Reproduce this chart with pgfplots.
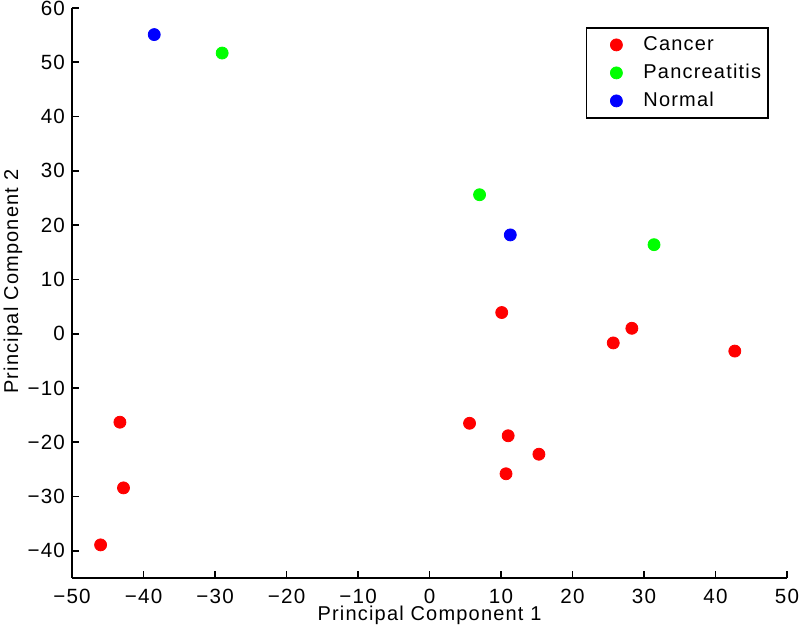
\documentclass[border=0pt]{standalone}
\usepackage{fontspec}
\setmainfont{Liberation Sans}[LetterSpace=6]
\usepackage{pgfplots}
\pgfplotsset{compat=1.18}
\definecolor{mred}{RGB}{255,0,0}
\definecolor{mgreen}{RGB}{0,255,0}
\definecolor{mblue}{RGB}{0,0,255}
\pgfplotsset{myleg/.style={legend image code/.code={%
  \path[draw=none,fill=none] (0pt,0pt) (23pt,0pt);
  \draw[##1, only marks] plot coordinates {(11.5pt,0pt)};}}}
\begin{document}
\begin{tikzpicture}
\begin{axis}[
  scale only axis, width=357.5pt, height=285pt,
  xmin=-50, xmax=50, ymin=-45, ymax=60,
  axis x line*=bottom, axis y line*=left,
  axis line style={line width=0.9pt, black},
  tick align=inside, major tick length=3.5pt,
  tick style={line width=0.9pt, black},
  xtick={-50,-40,-30,-20,-10,0,10,20,30,40,50},
  ytick={-40,-30,-20,-10,0,10,20,30,40,50,60},
  xticklabels={−50,−40,−30,−20,−10,0,10,20,30,40,50},
  yticklabels={−40,−30,−20,−10,0,10,20,30,40,50,60},
  ticklabel style={font=\fontsize{10.3}{12}\selectfont},
  xticklabel style={yshift=-1.8pt},
  xlabel={Principal Component 1},
  ylabel={Principal Component 2},
  label style={font=\fontsize{10}{12}\selectfont},
  xlabel style={at={(axis description cs:0.5,-0.0745)}, anchor=base},
  ylabel style={at={(axis description cs:-0.0755,0.52)}, anchor=base},
  legend style={at={(1,1)}, anchor=north east, xshift=-9pt, yshift=-9.5pt,
    draw=black, line width=0.9pt, font=\fontsize{10}{12}\selectfont,
    inner xsep=3.5pt, inner ysep=4pt, column sep=2pt, row sep=5pt,
    nodes={inner sep=0pt, text height=7.5pt, text depth=1.5pt},
    cells={anchor=west}},
]
\addplot[only marks, myleg, mark=*, color=mred, mark size=3pt, mark options={line width=0.4pt}] coordinates {
(-46.0,-38.9) (-42.8,-28.4) (-43.3,-16.3) (5.6,-16.5) (11.0,-18.8) (10.7,-25.8)
(15.3,-22.2) (10.1,3.9) (25.7,-1.7) (28.3,1.0) (42.7,-3.2)};
\addlegendentry{Cancer}
\addplot[only marks, myleg, mark=*, color=mgreen, mark size=3pt, mark options={line width=0.4pt}] coordinates {
(-29.0,51.7) (7.0,25.6) (31.4,16.4)};
\addlegendentry{Pancreatitis}
\addplot[only marks, myleg, mark=*, color=mblue, mark size=3pt, mark options={line width=0.4pt}] coordinates {
(-38.5,55.1) (11.3,18.2)};
\addlegendentry{Normal}
\end{axis}
\pgfresetboundingbox
\path[use as bounding box] ([shift={(-36pt,-28pt)}]current axis.south west) rectangle ([shift={(6.5pt,4pt)}]current axis.north east);
\end{tikzpicture}
\end{document}
